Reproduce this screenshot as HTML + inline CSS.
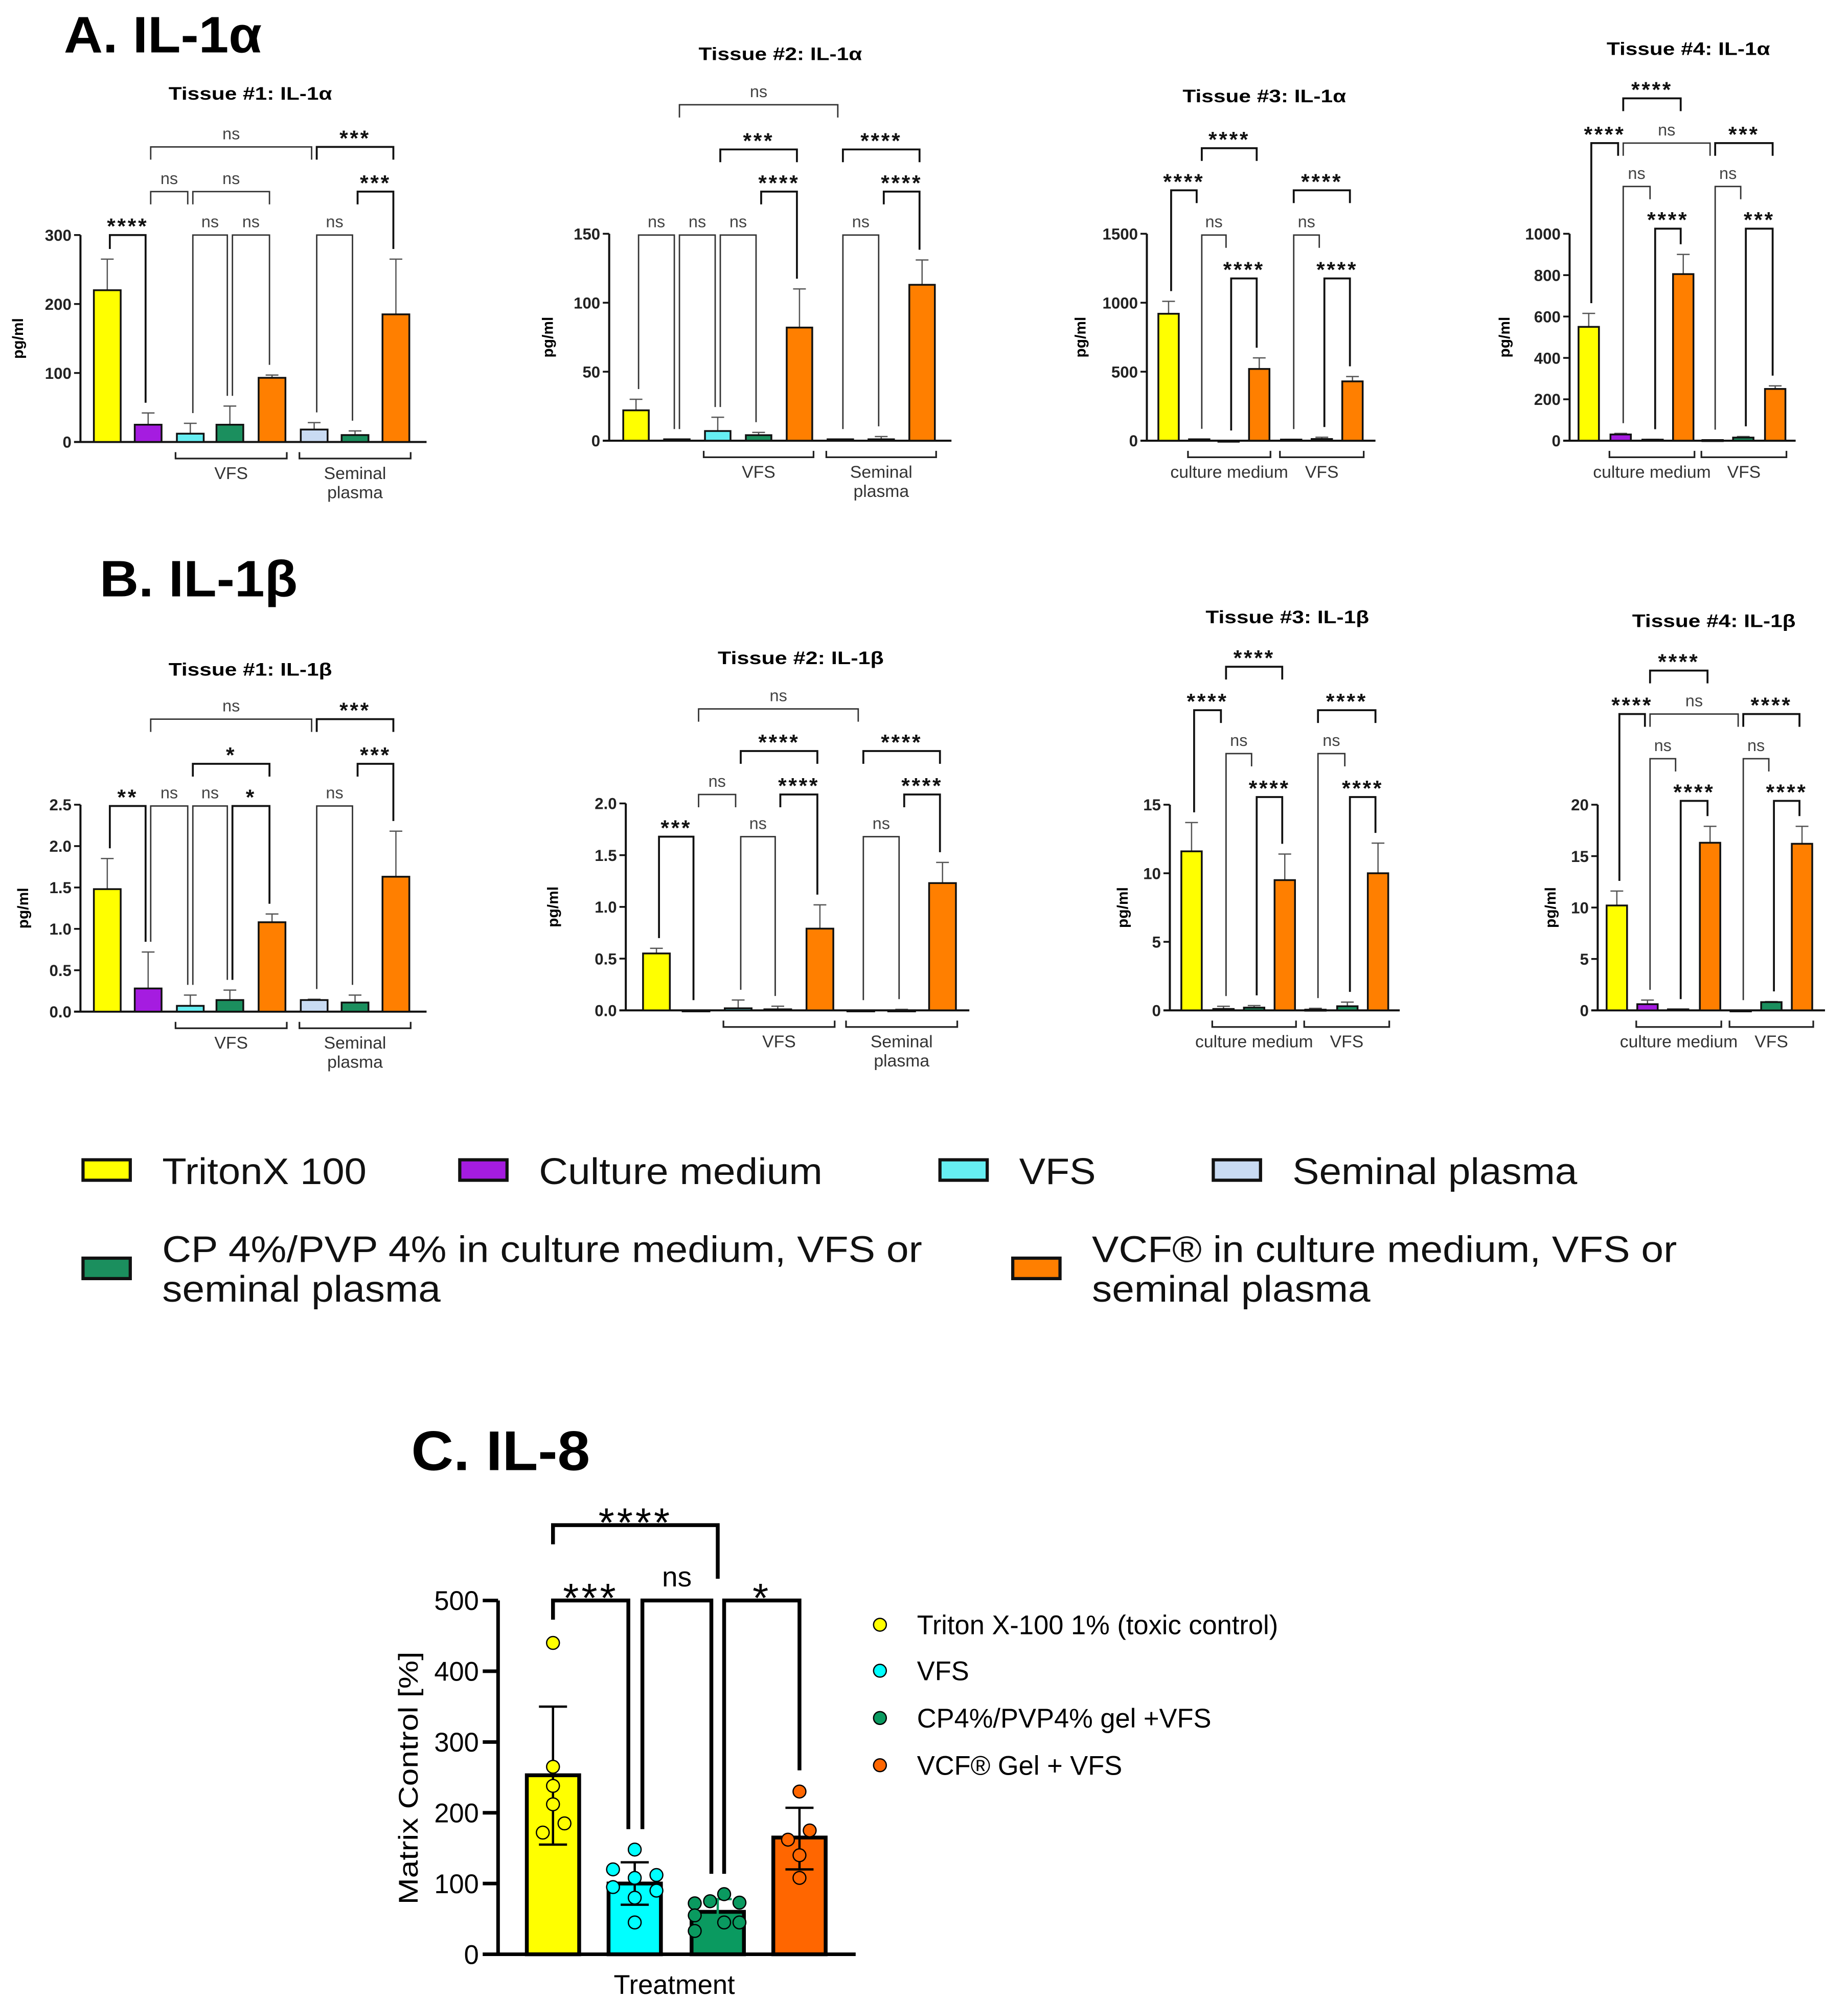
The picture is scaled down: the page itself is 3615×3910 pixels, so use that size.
<!DOCTYPE html>
<html><head><meta charset="utf-8">
<style>
html,body{margin:0;padding:0;background:#fff;}
svg{display:block;font-family:"Liberation Sans",Arial,sans-serif;}
</style></head>
<body>
<svg id="fig" width="3615" height="3910" viewBox="0 0 1447 1565" preserveAspectRatio="none" xmlns="http://www.w3.org/2000/svg">
<rect x="0" y="0" width="1447" height="1565" fill="#fff"/>
<text x="50" y="41" font-size="40" font-weight="bold" textLength="155" lengthAdjust="spacingAndGlyphs">A. IL-1α</text>
<text x="78" y="467" font-size="40" font-weight="bold" textLength="155" lengthAdjust="spacingAndGlyphs">B. IL-1β</text>
<text x="322" y="1151" font-size="44" font-weight="bold" textLength="140" lengthAdjust="spacingAndGlyphs">C. IL-8</text>
<g id="panels"></g>
<g id="legendAB"></g>
<g id="panelC"></g>
</svg>
<script>
// ---- Data: panels A/B (mean, mean+SD) ----
const a1Values=[220,25,12,25,93,18,10,185];
const a1Errors=[265,42,27,52,97,28,16,265];
const a2Values=[22,1,7,4,82,1,1,113];
const a2Errors=[30,1,17,6,110,1,3,131];
const a3Values=[920,10,0,520,8,12,430];
const a3Errors=[1010,12,0,600,10,25,465];
const a4Values=[550,30,5,805,3,15,250];
const a4Errors=[615,35,6,900,4,20,265];
const b1Values=[1.48,0.28,0.07,0.14,1.08,0.14,0.11,1.63];
const b1Errors=[1.85,0.72,0.2,0.26,1.18,0.15,0.2,2.18];
const b2Values=[0.55,0,0.02,0.01,0.79,0,0,1.23];
const b2Errors=[0.6,0,0.1,0.04,1.02,0,0.01,1.43];
const b3Values=[11.6,0.1,0.2,9.5,0.05,0.3,10];
const b3Errors=[13.7,0.3,0.35,11.4,0.15,0.6,12.2];
const b4Values=[10.2,0.6,0.1,16.3,0,0.8,16.2];
const b4Errors=[11.6,1.0,0.1,17.9,0,0.85,17.9];
const ticksA1=[0,100,200,300], ticksA2=[0,50,100,150], ticksA3=[0,500,1000,1500], ticksA4=[0,200,400,600,800,1000];
const ticksB1=[0,0.5,1.0,1.5,2.0,2.5], ticksB2=[0,0.5,1.0,1.5,2.0], ticksB3=[0,5,10,15], ticksB4=[0,5,10,15,20];
// ---- Data: panel C ----
const cCategories=["Triton X-100 1% (toxic control)","VFS","CP4%/PVP4% gel +VFS","VCF® Gel + VFS"];
const cMeans=[253,100,60,165];
const cLow=[155,70,55,120];
const cHigh=[350,130,78,207];
const cPoints=[[440,265,238,212,185,172],[148,120,108,112,95,90,80,45],[85,75,72,73,55,45,45,33],[230,175,162,140,108]];
const cTicks=[0,100,200,300,400,500];

const NS="http://www.w3.org/2000/svg";
function mk(tag,attrs,parent){const e=document.createElementNS(NS,tag);for(const k in attrs)e.setAttribute(k,attrs[k]);parent.appendChild(e);return e;}
const COL={y:"#ffff00",p:"#a51ce0",c:"#66eef2",g:"#1b8f5e",o:"#ff7f00",l:"#c9dbf3"};
const panels=[
 {id:"a1",title:"Tissue #1: IL-1α",tx:196,ty:78,tw:128,ax:63,axEnd:334,base:346,top:184,max:300,ticks:ticksA1,fmt:0,vals:a1Values,errs:a1Errors,
  cx:[84,116,149,180,213,246,278,310],bw:21,cols:["y","p","c","g","o","l","g","o"],ylx:18,
  br:[[0,1,184,"****"],[1,2,150,"ns"],[2,4,150,"ns"],[2,3,184,"ns"],[3,4,184,"ns"],[1,5,115,"ns"],[5,7,115,"***"],[6,7,150,"***"],[5,6,184,"ns"]],
  groups:[[2,4,["VFS"]],[5,7,["Seminal","plasma"]]]},
 {id:"a2",title:"Tissue #2: IL-1α",tx:611,ty:47,tw:128,ax:477,axEnd:745,base:345,top:183,max:150,ticks:ticksA2,fmt:0,vals:a2Values,errs:a2Errors,
  cx:[498,530,562,594,626,658,690,722],bw:20,cols:["y","p","c","g","o","l","g","o"],ylx:433,
  br:[[0,1,184,"ns"],[1,2,184,"ns"],[2,3,184,"ns"],[1,5,82,"ns"],[2,4,117,"***"],[3,4,150,"****"],[5,7,117,"****"],[6,7,150,"****"],[5,6,184,"ns"]],
  groups:[[2,4,["VFS"]],[5,7,["Seminal","plasma"]]]},
 {id:"a3",title:"Tissue #3: IL-1α",tx:990,ty:80,tw:128,ax:898,axEnd:1077,base:345,top:183,max:1500,ticks:ticksA3,fmt:0,vals:a3Values,errs:a3Errors,
  cx:[915,939,962,986,1011,1035,1059],bw:16,cols:["y","p","g","o","c","g","o"],ylx:850,
  br:[[0,1,149,"****"],[1,3,116,"****"],[1,2,184,"ns"],[2,3,218,"****"],[4,6,149,"****"],[4,5,184,"ns"],[5,6,218,"****"]],
  groups:[[1,3,["culture medium"]],[4,6,["VFS"]]]},
 {id:"a4",title:"Tissue #4: IL-1α",tx:1322,ty:43,tw:128,ax:1229,axEnd:1406,base:345,top:183,max:1000,ticks:ticksA4,fmt:0,vals:a4Values,errs:a4Errors,
  cx:[1244,1269,1294,1318,1341,1365,1390],bw:16,cols:["y","p","g","o","c","g","o"],ylx:1182,
  br:[[0,1,112,"****"],[1,3,77,"****"],[1,4,112,"ns"],[4,6,112,"***"],[1,2,146,"ns"],[2,3,179,"****"],[4,5,146,"ns"],[5,6,179,"***"]],
  groups:[[1,3,["culture medium"]],[4,6,["VFS"]]]},
 {id:"b1",title:"Tissue #1: IL-1β",tx:196,ty:529,tw:128,ax:63,axEnd:334,base:792,top:630,max:2.5,ticks:ticksB1,fmt:1,vals:b1Values,errs:b1Errors,
  cx:[84,116,149,180,213,246,278,310],bw:21,cols:["y","p","c","g","o","l","g","o"],ylx:22,
  br:[[0,1,631,"**"],[1,2,631,"ns"],[2,3,631,"ns"],[3,4,631,"*"],[2,4,598,"*"],[1,5,563,"ns"],[5,7,563,"***"],[6,7,598,"***"],[5,6,631,"ns"]],
  groups:[[2,4,["VFS"]],[5,7,["Seminal","plasma"]]]},
 {id:"b2",title:"Tissue #2: IL-1β",tx:627,ty:520,tw:130,ax:490,axEnd:759,base:791,top:629,max:2.0,ticks:ticksB2,fmt:1,vals:b2Values,errs:b2Errors,
  cx:[514,545,578,609,642,674,706,738],bw:21,cols:["y","p","c","g","o","l","g","o"],ylx:437,
  br:[[0,1,655,"***"],[1,2,622,"ns"],[1,5,555,"ns"],[2,4,588,"****"],[2,3,655,"ns"],[3,4,622,"****"],[5,7,588,"****"],[5,6,655,"ns"],[6,7,622,"****"]],
  groups:[[2,4,["VFS"]],[5,7,["Seminal","plasma"]]]},
 {id:"b3",title:"Tissue #3: IL-1β",tx:1008,ty:488,tw:128,ax:916,axEnd:1096,base:791,top:630,max:15,ticks:ticksB3,fmt:0,vals:b3Values,errs:b3Errors,
  cx:[933,958,982,1006,1030,1055,1079],bw:16,cols:["y","p","g","o","c","g","o"],ylx:883,
  br:[[0,1,556,"****"],[1,3,522,"****"],[1,2,590,"ns"],[2,3,624,"****"],[4,6,556,"****"],[4,5,590,"ns"],[5,6,624,"****"]],
  groups:[[1,3,["culture medium"]],[4,6,["VFS"]]]},
 {id:"b4",title:"Tissue #4: IL-1β",tx:1342,ty:491,tw:128,ax:1251,axEnd:1429,base:791,top:630,max:20,ticks:ticksB4,fmt:0,vals:b4Values,errs:b4Errors,
  cx:[1266,1290,1314,1339,1363,1387,1411],bw:16,cols:["y","p","g","o","c","g","o"],ylx:1218,
  br:[[0,1,559,"****"],[1,3,525,"****"],[1,4,559,"ns"],[4,6,559,"****"],[1,2,594,"ns"],[2,3,627,"****"],[4,5,594,"ns"],[5,6,627,"****"]],
  groups:[[1,3,["culture medium"]],[4,6,["VFS"]]]}
];
const root=document.getElementById("panels");
panels.forEach(p=>{
 const g=mk("g",{},root);
 
 
 const yS=v=>p.base-v/p.max*(p.base-p.top);
 const t=mk("text",{x:p.tx,y:p.ty,"font-size":14,"font-weight":"bold","text-anchor":"middle",textLength:p.tw,lengthAdjust:"spacingAndGlyphs"},g);
 t.textContent=p.title;
 
 
 const yl=mk("text",{x:p.ylx,y:(p.base+p.top)/2,"font-size":12,"font-weight":"bold","text-anchor":"middle",transform:`rotate(-90 ${p.ylx} ${(p.base+p.top)/2})`},g);
 yl.textContent="pg/ml";
 
 
 const ya=mk("line",{x1:p.ax,y1:p.base,x2:p.ax,y2:yS(p.ticks[p.ticks.length-1]),stroke:"#111","stroke-width":1.6},g);
 
 
 const xa=mk("line",{x1:p.ax-5,y1:p.base,x2:p.axEnd,y2:p.base,stroke:"#111","stroke-width":1.6},g);
 
 
 p.ticks.forEach(v=>{
  mk("line",{x1:p.ax-5,y1:yS(v),x2:p.ax,y2:yS(v),stroke:"#111","stroke-width":1.4},g);
  const tl=mk("text",{x:p.ax-7,y:yS(v)+4.5,"font-size":12.5,"font-weight":"bold","text-anchor":"end",fill:"#222"},g);
  tl.textContent=p.fmt?v.toFixed(p.fmt):String(v);
  
  
 });
 p.vals.forEach((v,i)=>{
  const c=p.cx[i], e=p.errs[i];
  if(e>v){
   mk("line",{x1:c,y1:yS(v),x2:c,y2:yS(e),stroke:"#555","stroke-width":1},g);
   mk("line",{x1:c-5,y1:yS(e),x2:c+5,y2:yS(e),stroke:"#555","stroke-width":1},g);
  }
  const r=mk("rect",{x:c-p.bw/2,y:yS(v),width:p.bw,height:Math.max(p.base-yS(v),0.8),fill:COL[p.cols[i]],stroke:"#111","stroke-width":1.4},g);
  
  
 });
 // lowest bracket level per bar
 const lowest={};
 p.br.forEach(b=>{[b[0],b[1]].forEach(i=>{lowest[i]=Math.max(lowest[i]||0,b[2]);});});
 p.br.forEach(b=>{
  const [i,j,yH,lab]=b;
  const xl=p.cx[i]+2, xr=p.cx[j]-2;
  const longL=Math.max(yS(Math.max(p.vals[i],p.errs[i]))-8,yH+6);
  const longR=Math.max(yS(Math.max(p.vals[j],p.errs[j]))-8,yH+6);
  const legL=yH===lowest[i]?longL:yH+10;
  const legR=yH===lowest[j]?longR:yH+10;
  const isNs=lab==="ns";
  const pa=mk("path",{d:`M${xl},${legL}V${yH}H${xr}V${legR}`,fill:"none",stroke:isNs?"#333":"#111","stroke-width":isNs?1.1:1.5},g);
  
  
  const tx=mk("text",{x:(xl+xr)/2,y:isNs?yH-6:yH-1,"font-size":isNs?13:17,"font-weight":isNs?"normal":"bold","text-anchor":"middle",fill:isNs?"#444":"#111","letter-spacing":isNs?0:1.5},g);
  tx.textContent=lab;
  
  
 });
 p.groups.forEach(gr=>{
  const x1=p.cx[gr[0]]-p.bw*0.55, x2=p.cx[gr[1]]+p.bw*0.55, yy=p.base+13;
  mk("path",{d:`M${x1},${yy-5}V${yy}H${x2}V${yy-5}`,fill:"none",stroke:"#222","stroke-width":1.3},g);
  gr[2].forEach((s,k)=>{
   const gt=mk("text",{x:(x1+x2)/2,y:yy+16+k*15,"font-size":13.5,"text-anchor":"middle",fill:"#333"},g);
   gt.textContent=s;
   
   
  });
 });
});
// ---- Legend A/B ----
const lg=document.getElementById("legendAB");
const legItems=[
 {x:65,y:908,c:"y",lines:["TritonX 100"],tl:[160]},
 {x:360,y:908,c:"p",lines:["Culture medium"],tl:[222]},
 {x:736,y:908,c:"c",lines:["VFS"],tl:[60]},
 {x:950,y:908,c:"l",lines:["Seminal plasma"],tl:[223]},
 {x:65,y:985,c:"g",lines:["CP 4%/PVP 4% in culture medium, VFS or","seminal plasma"],tl:[595,218]},
 {x:793,y:985,c:"o",lines:["VCF® in culture medium, VFS or","seminal plasma"],tl:[458,218]}
];
legItems.forEach(it=>{
 const r=mk("rect",{x:it.x,y:it.y,width:37,height:16,fill:COL[it.c],stroke:"#111","stroke-width":2.5},lg);
 
 
 it.lines.forEach((s,k)=>{
  const two=it.lines.length>1;
  const t=mk("text",{x:it.x+62,y:two?(it.y+3+k*31):(it.y+19),"font-size":29,fill:"#111",textLength:it.tl[k],lengthAdjust:"spacingAndGlyphs"},lg);
  t.textContent=s;
  
  
 });
});
// ---- Panel C ----
const pc=document.getElementById("panelC");
const C={ax:390,axEnd:670,base:1530,top:1253,max:500,cx:[433,497,562,626],bw:41,cols:["#ffff00","#00ffff","#0a9a60","#ff6600"]};
const cy=v=>C.base-v/C.max*(C.base-C.top);
cTicks.forEach(v=>{
 mk("line",{x1:C.ax-12,y1:cy(v),x2:C.ax,y2:cy(v),stroke:"#000","stroke-width":2.8},pc);
 const t=mk("text",{x:C.ax-15,y:cy(v)+7.5,"font-size":21,"text-anchor":"end"},pc);
 t.textContent=String(v);
 
 
});
const cya=mk("line",{x1:C.ax,y1:C.base+1.4,x2:C.ax,y2:C.top,stroke:"#000","stroke-width":2.8},pc);


const cxa=mk("line",{x1:C.ax-12,y1:C.base,x2:C.axEnd,y2:C.base,stroke:"#000","stroke-width":2.8},pc);


const cyl=mk("text",{x:327,y:1392,"font-size":21,"text-anchor":"middle",transform:"rotate(-90 327 1392)",textLength:198,lengthAdjust:"spacingAndGlyphs"},pc);
cyl.textContent="Matrix Control [%]";


const cxl=mk("text",{x:528,y:1561,"font-size":21,"text-anchor":"middle"},pc);
cxl.textContent="Treatment";


const jit=[[0,0,0,0,9,-8],[0,-17,0,17,-17,17,0,0],[5,-6,-18,17,-18,5,17,-18],[0,8,-9,0,0]];
cMeans.forEach((m,i)=>{
 const r=mk("rect",{x:C.cx[i]-C.bw/2,y:cy(m),width:C.bw,height:C.base-cy(m),fill:C.cols[i],stroke:"#000","stroke-width":3},pc);
 
 
 const ec=i===2?"#0a9a60":"#000";
 mk("line",{x1:C.cx[i],y1:cy(cLow[i]),x2:C.cx[i],y2:cy(cHigh[i]),stroke:ec,"stroke-width":1.8},pc);
 mk("line",{x1:C.cx[i]-11,y1:cy(cLow[i]),x2:C.cx[i]+11,y2:cy(cLow[i]),stroke:ec,"stroke-width":1.8},pc);
 mk("line",{x1:C.cx[i]-11,y1:cy(cHigh[i]),x2:C.cx[i]+11,y2:cy(cHigh[i]),stroke:ec,"stroke-width":1.8},pc);
 cPoints[i].forEach((v,k)=>{
  const d=mk("circle",{cx:C.cx[i]+(jit[i][k]||0),cy:cy(v),r:5,fill:C.cols[i],stroke:"#000","stroke-width":1},pc);
  
  
 });
});
const cBr=[[0,2,1194,1209,1236,"****"],[0,1,1253,1268,1432,"***"],[1,2,1253,1432,1467,"ns"],[2,3,1253,1467,1386,"*"]];
cBr.forEach(b=>{
 const xl=C.cx[b[0]]+(b[0]===1?6:(b[0]===2&&b[1]===3?5:0)), xr=C.cx[b[1]]+(b[1]===1?-5:(b[1]===2&&b[0]===1?-5:0));
 const pa=mk("path",{d:`M${xl},${b[3]}V${b[2]}H${xr}V${b[4]}`,fill:"none",stroke:"#000","stroke-width":3},pc);
 
 
 const ns=b[5]==="ns";
 const t=mk("text",{x:(xl+xr)/2,y:ns?b[2]-11:b[2]+9,"font-size":ns?22:32,"text-anchor":"middle","letter-spacing":ns?0:2},pc);
 t.textContent=b[5];
 
 
});
const cLegY=[1272,1308,1345,1382];
cCategories.forEach((s,i)=>{
 const d=mk("circle",{cx:689,cy:cLegY[i],r:5,fill:C.cols[i],stroke:"#000","stroke-width":1},pc);
 
 
 const t=mk("text",{x:718,y:cLegY[i]+7.5,"font-size":21},pc);
 t.textContent=s;
 
 
});
</script>
</body></html>
